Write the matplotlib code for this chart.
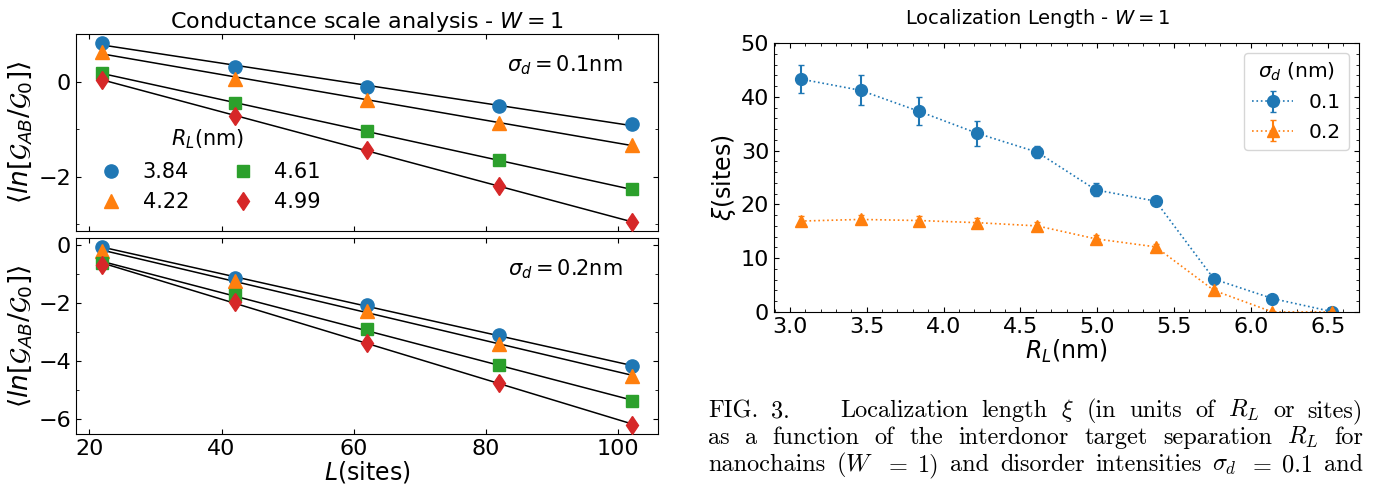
import matplotlib
matplotlib.use("Agg")
import matplotlib.pyplot as plt
from matplotlib.ticker import AutoMinorLocator, MultipleLocator
import numpy as np

# chain length (sites) used in the scale analysis
L_sites = [22, 42, 62, 82, 102]
rl_labels = ["3.84", "4.22", "4.61", "4.99"]

# <ln[G_AB/G_0]> for sigma_d = 0.1 nm
lnG_01 = {
    "3.84": [0.82, 0.32, -0.11, -0.51, -0.89],
    "4.22": [0.62, 0.07, -0.39, -0.86, -1.33],
    "4.61": [0.18, -0.45, -1.04, -1.66, -2.27],
    "4.99": [0.04, -0.72, -1.44, -2.20, -2.96],
}
# <ln[G_AB/G_0]> for sigma_d = 0.2 nm
lnG_02 = {
    "3.84": [-0.05, -1.12, -2.07, -3.10, -4.16],
    "4.22": [-0.20, -1.23, -2.26, -3.41, -4.50],
    "4.61": [-0.60, -1.72, -2.90, -4.13, -5.37],
    "4.99": [-0.66, -1.95, -3.36, -4.74, -6.20],
}

# localization length vs interdonor separation
R_L = [3.07, 3.46, 3.84, 4.22, 4.61, 4.99, 5.38, 5.76, 6.14, 6.53]
xi_01 = [43.3, 41.2, 37.3, 33.2, 29.7, 22.7, 20.6, 6.1, 2.5, 0.05]
xi_01_err = [2.6, 2.8, 2.6, 2.3, 1.1, 1.2, 0.5, 0.5, 0.3, 0.2]
xi_02 = [16.9, 17.2, 17.0, 16.6, 16.0, 13.6, 12.1, 4.0, 0.0, 0.0]
xi_02_err = [0.9, 0.9, 0.9, 0.8, 0.8, 0.7, 0.5, 0.4, 0.1, 0.1]

colors = ["#1f77b4", "#ff7f0e", "#2ca02c", "#d62728"]
markers = ["o", "^", "s", "d"]
msizes = [9.5, 9.5, 8.5, 9.5]

fs_tick = 16

fig = plt.figure(figsize=(13.8, 4.88), dpi=100)
ax_top = fig.add_axes([0.0551, 0.5266, 0.4217, 0.4037])
ax_bot = fig.add_axes([0.0551, 0.1107, 0.4217, 0.4016])
ax_r = fig.add_axes([0.5609, 0.3607, 0.4239, 0.5512])

ylab = r"$\langle ln[\mathcal{G}_{AB}/\mathcal{G}_0]\rangle$"

for ax, data, sig in [(ax_top, lnG_01, "0.1"), (ax_bot, lnG_02, "0.2")]:
    for i, lab in enumerate(rl_labels):
        y = data[lab]
        p = np.polyfit(L_sites, y, 1)
        xx = np.array([L_sites[0], L_sites[-1]])
        ax.plot(xx, np.polyval(p, xx), color="black", lw=1.1, zorder=2)
        ax.plot(L_sites, y, linestyle="none", marker=markers[i], ms=msizes[i],
                color=colors[i], label=lab, zorder=3)
    ax.set_ylabel(ylab, fontsize=19, labelpad=3)
    ax.text(0.84, 0.84, r"$\sigma_d = $" + sig + "nm", transform=ax.transAxes,
            ha="center", va="center", fontsize=15)
    ax.xaxis.set_major_locator(MultipleLocator(20))
    ax.yaxis.set_major_locator(MultipleLocator(2))
    ax.yaxis.set_minor_locator(AutoMinorLocator(2))
    ax.tick_params(which="both", direction="in", top=True, right=True,
                   labelsize=fs_tick)

ax_top.set_xticklabels([])
ax_top.set_title(r"Conductance scale analysis - $W = 1$", fontsize=16, pad=4)
ax_bot.set_xlabel(r"$L$(sites)", fontsize=17, labelpad=0)
ax_top.legend(title=r"$R_L$(nm)", ncol=2, frameon=False, fontsize=15,
              title_fontsize=15, loc="lower left", bbox_to_anchor=(0.0, 0.0),
              handlelength=1.6, handletextpad=0.7, columnspacing=1.8)

# right panel: localization length
ax_r.errorbar(R_L, xi_01, yerr=xi_01_err, fmt="o:", color=colors[0], ms=8.5,
              lw=1.2, elinewidth=1.5, capsize=2.5, label="0.1")
ax_r.errorbar(R_L, xi_02, yerr=xi_02_err, fmt="^:", color=colors[1], ms=8.5,
              lw=1.2, elinewidth=1.5, capsize=2.5, label="0.2")
ax_r.set_ylim(0, 50)
ax_r.xaxis.set_major_locator(MultipleLocator(0.5))
ax_r.xaxis.set_minor_locator(MultipleLocator(0.1))
ax_r.yaxis.set_major_locator(MultipleLocator(10))
ax_r.yaxis.set_minor_locator(MultipleLocator(2))
ax_r.tick_params(which="both", direction="in", top=True, right=True,
                 labelsize=fs_tick)
ax_r.set_xlabel(r"$R_L$(nm)", fontsize=17, labelpad=1)
ax_r.set_ylabel(r"$\xi$(sites)", fontsize=17, labelpad=2)
ax_r.set_title(r"Localization Length - $W = 1$", fontsize=14, pad=14, x=0.45)
ax_r.legend(title=r"$\sigma_d$ (nm)", loc="upper right", fontsize=14.5,
            title_fontsize=14.5)

# caption text below the right panel, justified line by line
cap_fs = 17.5
renderer = fig.canvas.get_renderer()
W, H = fig.bbox.width, fig.bbox.height


def put_line(words, x0, x1, ypix):
    texts = [fig.text(0, 0, w, fontsize=cap_fs, family="cmr10",
                      math_fontfamily="cm", va="baseline") for w in words]
    widths = [t.get_window_extent(renderer).width for t in texts]
    gap = (x1 - x0 - sum(widths)) / max(len(words) - 1, 1)
    x = x0
    for t, w in zip(texts, widths):
        t.set_position((x / W, 1 - ypix / H))
        x += w + gap


put_line(["FIG.", "3."], 708, 790, 417)
put_line(["Localization", "length", r"$\xi$", "(in", "units", "of", r"$R_L$",
          "or", "sites)"], 840, 1363, 417)
put_line(["as", "a", "function", "of", "the", "interdonor", "target",
          "separation", r"$R_L$", "for"], 708, 1363, 444)
put_line(["nanochains", r"($W$", r"$=$", "1)", "and", "disorder", "intensities",
          r"$\sigma_d$", r"$=$", "0.1", "and"], 708, 1363, 471)

fig.savefig("out.png", dpi=100)
